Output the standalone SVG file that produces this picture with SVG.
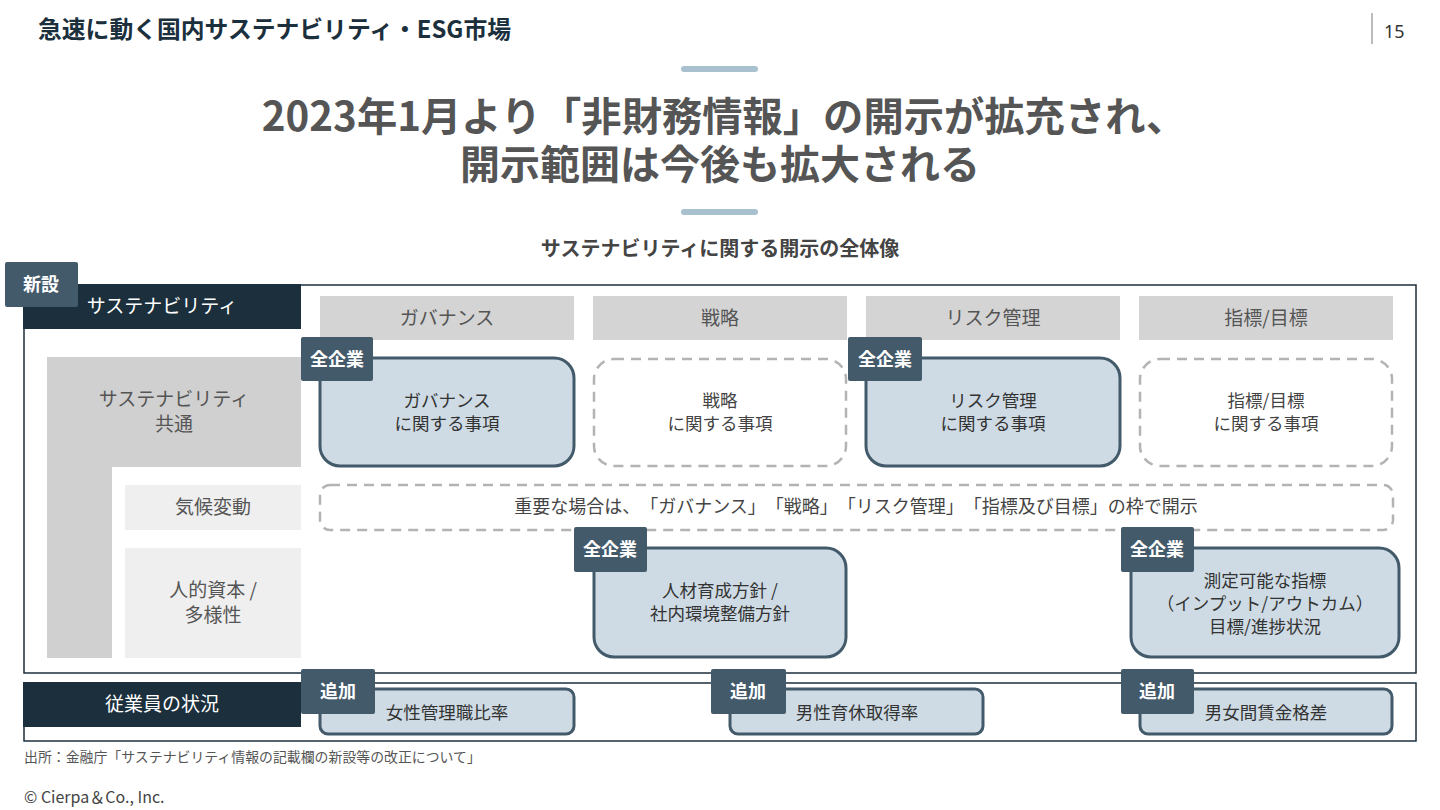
<svg xmlns="http://www.w3.org/2000/svg" width="1440" height="810" viewBox="0 0 1440 810">
<style>
text{font-family:"Noto Sans CJK JP","Noto Sans",sans-serif;text-spacing-trim:space-all;}
.hdr{font-size:23.8px;font-weight:700;fill:#1b2f3c;}
.ttl{font-size:40px;font-weight:700;fill:#555555;text-anchor:middle;}
.sub{font-size:20px;font-weight:700;fill:#444444;text-anchor:middle;}
.bar{fill:#a9c1cf;}
.frame{fill:none;stroke:#1b2f3c;stroke-width:1.5;}
.dark{fill:#1b2f3c;}
.wt{font-size:19px;fill:#ffffff;text-anchor:middle;}
.badge{fill:#435a6b;}
.bt{font-size:18px;font-weight:700;fill:#ffffff;text-anchor:middle;}
.colh{fill:#d4d4d4;}
.cht{font-size:19px;fill:#555555;text-anchor:middle;}
.side{fill:#d0d0d0;}
.side2{fill:#efefef;}
.st{font-size:19px;fill:#555555;text-anchor:middle;}
.solid{fill:#cedbe4;stroke:#435a6b;stroke-width:3;}
.dash{fill:#ffffff;stroke:#b3b3b3;stroke-width:2.5;stroke-dasharray:10 7;}
.tx{font-size:17.5px;fill:#333333;text-anchor:middle;}
.dtx{font-size:17.5px;fill:#444444;text-anchor:middle;}
.foot{font-size:13.9px;fill:#555555;}
.copy{font-size:16px;fill:#444444;}
</style>

<g id="header">
<text class="hdr" x="38" y="38">急速に動く国内サステナビリティ・ESG市場</text>
<rect x="1371" y="13" width="2" height="31" fill="#bbbbbb"/>
<text x="1384" y="38" style="font-family:'Noto Sans',sans-serif;font-size:18px;fill:#333333">15</text>
</g>

<g id="title">
<rect class="bar" x="681" y="66" width="77" height="6" rx="3"/>
<text class="ttl" x="724" y="131" style="font-size:40.3px">2023年1月より「非財務情報」の開示が拡充され、</text>
<text class="ttl" x="720" y="179">開示範囲は今後も拡大される</text>
<rect class="bar" x="681" y="209" width="77" height="6" rx="3"/>
<text class="sub" x="720" y="256">サステナビリティに関する開示の全体像</text>
</g>

<g id="frames">
<rect class="frame" x="24" y="285" width="1392" height="388"/>
<rect class="frame" x="24" y="683" width="1392" height="58"/>
</g>

<g id="label-sustainability">
<rect class="dark" x="23" y="284" width="278" height="45"/>
<text class="wt" x="162" y="313">サステナビリティ</text>
</g>
<g id="badge-new">
<rect class="badge" x="5" y="262" width="73" height="45" rx="2"/>
<text class="bt" x="41" y="291">新設</text>
</g>

<g id="col-headers">
<rect class="colh" x="320" y="296" width="254" height="44"/>
<text class="cht" x="447" y="325">ガバナンス</text>
<rect class="colh" x="593" y="296" width="254" height="44"/>
<text class="cht" x="720" y="325">戦略</text>
<rect class="colh" x="866" y="296" width="254" height="44"/>
<text class="cht" x="993" y="325">リスク管理</text>
<rect class="colh" x="1139" y="296" width="254" height="44"/>
<text class="cht" x="1266" y="325">指標/目標</text>
</g>

<g id="row-labels">
<rect class="side" x="47" y="357" width="254" height="110"/>
<rect class="side" x="47" y="357" width="65" height="301"/>
<text class="st" x="174" y="406">サステナビリティ</text>
<text class="st" x="174" y="431">共通</text>
<rect class="side2" x="125" y="485" width="176" height="45"/>
<text class="st" x="213" y="514">気候変動</text>
<rect class="side2" x="125" y="548" width="176" height="110"/>
<text class="st" x="213" y="597">人的資本 /</text>
<text class="st" x="213" y="622">多様性</text>
</g>

<g id="node-governance">
<rect class="solid" x="320" y="358" width="254" height="108" rx="20"/>
<text class="tx" x="447" y="407">ガバナンス</text>
<text class="tx" x="447" y="430">に関する事項</text>
<rect class="badge" x="301" y="337" width="72" height="44" rx="2"/>
<text class="bt" x="337" y="366">全企業</text>
</g>

<g id="node-strategy">
<rect class="dash" x="594" y="359" width="252" height="107" rx="20"/>
<text class="dtx" x="720" y="407">戦略</text>
<text class="dtx" x="720" y="430">に関する事項</text>
</g>

<g id="node-risk">
<rect class="solid" x="866" y="358" width="254" height="108" rx="20"/>
<text class="tx" x="993" y="407">リスク管理</text>
<text class="tx" x="993" y="430">に関する事項</text>
<rect class="badge" x="848" y="337" width="74" height="44" rx="2"/>
<text class="bt" x="885" y="366">全企業</text>
</g>

<g id="node-metrics">
<rect class="dash" x="1140" y="359" width="252" height="107" rx="20"/>
<text class="dtx" x="1266" y="407">指標/目標</text>
<text class="dtx" x="1266" y="430">に関する事項</text>
</g>

<g id="node-climate">
<rect class="dash" x="320" y="485" width="1073" height="45" rx="10"/>
<text class="dtx" x="856" y="513" style="font-size:18px">重要な場合は、「ガバナンス」「戦略」「リスク管理」「指標及び目標」の枠で開示</text>
</g>

<g id="node-human">
<rect class="solid" x="594" y="548" width="252" height="109" rx="20"/>
<text class="tx" x="720" y="597">人材育成方針 /</text>
<text class="tx" x="720" y="620">社内環境整備方針</text>
<rect class="badge" x="574" y="527" width="73" height="45" rx="2"/>
<text class="bt" x="610" y="556">全企業</text>
</g>

<g id="node-measurable">
<rect class="solid" x="1131" y="548" width="268" height="109" rx="20"/>
<text class="tx" x="1265" y="587">測定可能な指標</text>
<text class="tx" x="1265" y="610">（インプット/アウトカム）</text>
<text class="tx" x="1265" y="633">目標/進捗状況</text>
<rect class="badge" x="1121" y="527" width="73" height="45" rx="2"/>
<text class="bt" x="1157" y="556">全企業</text>
</g>

<g id="label-employees">
<rect class="dark" x="23" y="682" width="278" height="45"/>
<text class="wt" x="162" y="711">従業員の状況</text>
</g>

<g id="node-female">
<rect class="solid" x="320" y="689" width="254" height="45" rx="8"/>
<text class="tx" x="447" y="719">女性管理職比率</text>
<rect class="badge" x="301" y="669" width="74" height="45" rx="2"/>
<text class="bt" x="338" y="698">追加</text>
</g>

<g id="node-paternity">
<rect class="solid" x="730" y="689" width="253" height="45" rx="8"/>
<text class="tx" x="857" y="719">男性育休取得率</text>
<rect class="badge" x="711" y="669" width="75" height="45" rx="2"/>
<text class="bt" x="748" y="698">追加</text>
</g>

<g id="node-paygap">
<rect class="solid" x="1140" y="689" width="252" height="45" rx="8"/>
<text class="tx" x="1266" y="719">男女間賃金格差</text>
<rect class="badge" x="1121" y="669" width="73" height="45" rx="2"/>
<text class="bt" x="1157" y="698">追加</text>
</g>

<g id="connectors"></g>

<g id="footer">
<text class="foot" x="24" y="762">出所：金融庁「サステナビリティ情報の記載欄の新設等の改正について」</text>
<text class="copy" x="24" y="803">© Cierpa＆Co., Inc.</text>
</g>
</svg>
